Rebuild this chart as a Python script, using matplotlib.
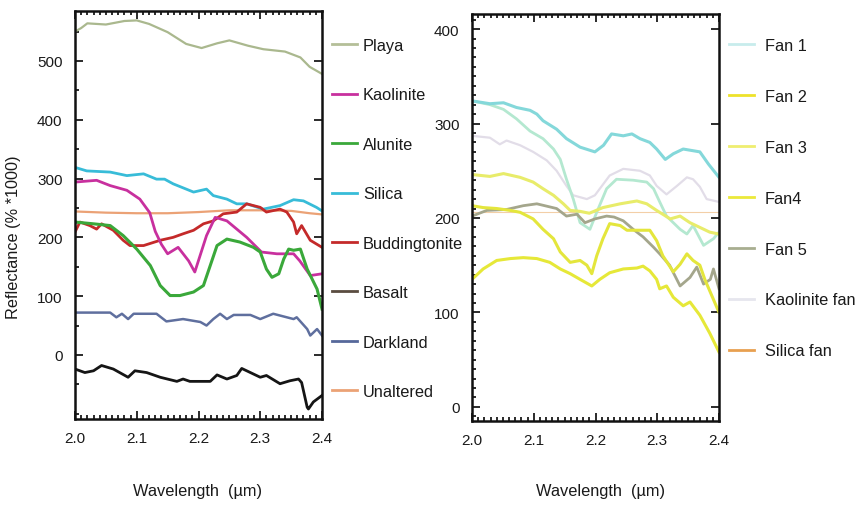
import matplotlib

matplotlib.use("Agg")
import matplotlib.pyplot as plt
from matplotlib.lines import Line2D
from matplotlib.ticker import FixedLocator, MultipleLocator

plt.rcParams["font.family"] = ["Liberation Sans", "DejaVu Sans"]

W, H = 867, 506

# ---- left panel: reference spectra (reflectance % * 1000) ----
playa_wl = [2.0, 2.01, 2.02, 2.05, 2.08, 2.10, 2.12, 2.15, 2.18, 2.205, 2.23, 2.25,
            2.28, 2.305, 2.34, 2.365, 2.38, 2.40]
playa = [550, 556, 564, 562, 568, 569, 563, 549, 529, 522, 530, 535,
         526, 520, 516, 506, 490, 478]

silica_wl = [2.0, 2.019, 2.057, 2.084, 2.111, 2.132, 2.145, 2.159, 2.192, 2.213, 2.224,
             2.246, 2.262, 2.278, 2.305, 2.332, 2.354, 2.37, 2.391, 2.40]
silica = [319, 313, 311, 305, 308, 299, 299, 291, 277, 282, 271,
          265, 257, 257, 248, 254, 264, 262, 251, 245]

kaolinite_wl = [2.0, 2.035, 2.057, 2.084, 2.105, 2.121, 2.13, 2.14, 2.15, 2.167, 2.184,
                2.194, 2.213, 2.227, 2.246, 2.278, 2.302, 2.327, 2.354, 2.364, 2.381, 2.40]
kaolinite = [294, 297, 288, 280, 265, 242, 210, 188, 172, 183, 160,
             141, 203, 234, 228, 200, 175, 172, 172, 160, 135, 138]

alunite_wl = [2.0, 2.03, 2.057, 2.078, 2.1, 2.122, 2.138, 2.154, 2.17, 2.192, 2.208,
              2.219, 2.23, 2.246, 2.267, 2.289, 2.3, 2.31, 2.319, 2.33, 2.338, 2.346,
              2.354, 2.365, 2.376, 2.392, 2.40]
alunite = [226, 223, 220, 203, 180, 152, 118, 101, 101, 107, 118,
           152, 186, 197, 192, 183, 175, 146, 132, 138, 163, 180,
           178, 180, 146, 112, 78]

budd_wl = [2.0, 2.008, 2.024, 2.035, 2.043, 2.062, 2.078, 2.089, 2.111, 2.138, 2.159,
           2.175, 2.192, 2.208, 2.224, 2.24, 2.262, 2.278, 2.3, 2.31, 2.332, 2.343,
           2.354, 2.359, 2.367, 2.381, 2.40]
buddingtonite = [209, 226, 220, 214, 223, 212, 195, 186, 186, 195, 200,
                 206, 212, 223, 228, 240, 243, 257, 251, 243, 248, 243,
                 226, 206, 220, 195, 183]

darkland_wl = [2.0, 2.057, 2.067, 2.076, 2.086, 2.095, 2.132, 2.148, 2.175, 2.203, 2.213,
               2.224, 2.235, 2.246, 2.257, 2.284, 2.3, 2.321, 2.343, 2.354, 2.359, 2.376,
               2.381, 2.392, 2.40]
darkland = [72, 72, 64, 70, 61, 70, 70, 57, 61, 56, 50,
            61, 70, 61, 68, 68, 61, 70, 64, 61, 64, 44,
            33, 44, 33]

basalt_wl = [2.0, 2.016, 2.03, 2.043, 2.062, 2.086, 2.097, 2.116, 2.138, 2.165, 2.175,
             2.186, 2.219, 2.23, 2.246, 2.262, 2.27, 2.284, 2.3, 2.31, 2.332, 2.348,
             2.362, 2.367, 2.376, 2.378, 2.386, 2.40]
basalt = [-24, -30, -27, -18, -24, -38, -27, -30, -38, -45, -41,
          -45, -45, -34, -41, -35, -23, -30, -38, -35, -49, -44,
          -41, -47, -89, -92, -80, -69]

unaltered_wl = [2.0, 2.05, 2.1, 2.15, 2.2, 2.25, 2.3, 2.35, 2.38, 2.4]
unaltered = [244, 242, 241, 241, 243, 246, 246, 245, 241, 239]

# ---- right panel: alluvial fan spectra ----
fan1_wl = [2.0, 2.029, 2.051, 2.072, 2.094, 2.105, 2.115, 2.137, 2.153, 2.175, 2.199,
           2.213, 2.226, 2.245, 2.259, 2.272, 2.288, 2.299, 2.313, 2.326, 2.342, 2.369,
           2.383, 2.40]
fan1 = [324, 321, 322, 317, 314, 310, 303, 294, 284, 275, 270,
        277, 289, 287, 289, 284, 280, 273, 262, 268, 273, 270,
        257, 243]

fan1b_wl = [2.0, 2.029, 2.051, 2.072, 2.094, 2.115, 2.132, 2.143, 2.153, 2.164, 2.175,
            2.191, 2.202, 2.218, 2.234, 2.261, 2.283, 2.294, 2.304, 2.315, 2.337, 2.348,
            2.358, 2.375, 2.391, 2.40]
fan1b = [324, 320, 315, 305, 292, 284, 273, 262, 241, 220, 195,
         188, 206, 231, 241, 240, 238, 231, 217, 202, 188, 183,
         192, 171, 178, 185]

fan2_wl = [2.0, 2.018, 2.04, 2.062, 2.083, 2.105, 2.126, 2.143, 2.159, 2.175, 2.194,
           2.207, 2.223, 2.245, 2.267, 2.277, 2.288, 2.299, 2.304, 2.315, 2.326, 2.342,
           2.353, 2.369, 2.385, 2.40]
fan2 = [135, 146, 155, 157, 158, 157, 153, 146, 141, 135, 128,
        135, 142, 146, 147, 149, 144, 135, 125, 128, 116, 107,
        111, 97, 78, 58]

fan3_wl = [2.0, 2.029, 2.051, 2.078, 2.099, 2.115, 2.132, 2.148, 2.159, 2.175, 2.19,
           2.212, 2.24, 2.267, 2.283, 2.299, 2.321, 2.337, 2.353, 2.369, 2.385, 2.40]
fan3 = [246, 244, 247, 243, 238, 231, 224, 215, 208, 207, 205,
        211, 215, 218, 215, 208, 199, 202, 195, 190, 185, 183]

fan4_wl = [2.0, 2.018, 2.04, 2.062, 2.078, 2.099, 2.115, 2.132, 2.143, 2.159, 2.175,
           2.186, 2.194, 2.202, 2.212, 2.223, 2.24, 2.251, 2.272, 2.288, 2.299, 2.309,
           2.326, 2.337, 2.348, 2.358, 2.369, 2.377, 2.40]
fan4 = [213, 211, 210, 208, 206, 199, 188, 178, 164, 153, 155,
        150, 141, 160, 178, 194, 192, 187, 187, 187, 176, 160,
        143, 151, 162, 155, 150, 135, 100]

fan5_wl = [2.0, 2.024, 2.056, 2.083, 2.105, 2.137, 2.153, 2.17, 2.183, 2.199, 2.218,
           2.23, 2.245, 2.261, 2.277, 2.294, 2.304, 2.32, 2.337, 2.353, 2.364, 2.375,
           2.386, 2.391, 2.40]
fan5 = [202, 208, 209, 213, 215, 210, 202, 204, 195, 199, 202,
        201, 197, 188, 180, 169, 162, 150, 128, 137, 148, 130,
        135, 146, 125]

kfan_wl = [2.0, 2.029, 2.045, 2.056, 2.078, 2.099, 2.121, 2.137, 2.153, 2.164, 2.186,
           2.199, 2.207, 2.223, 2.245, 2.272, 2.288, 2.299, 2.315, 2.332, 2.348, 2.358,
           2.369, 2.38, 2.40]
kaolinite_fan = [287, 285, 278, 282, 277, 270, 261, 250, 234, 224, 220,
                 224, 231, 245, 252, 250, 245, 234, 225, 234, 243, 241,
                 233, 220, 217]

sfan_wl = [2.0, 2.1, 2.2, 2.3, 2.4]
silica_fan = [206, 206, 206, 206, 206]

left_labels = ["Playa", "Kaolinite", "Alunite", "Silica", "Buddingtonite",
               "Basalt", "Darkland", "Unaltered"]
left_key_colors = ["#b4bf98", "#c8309e", "#3aa83a", "#38bcd8", "#c42a2a",
                   "#5a4c40", "#56689a", "#eba276"]
left_yticks = [0, 100, 200, 300, 400, 500]
right_labels = ["Fan 1", "Fan 2", "Fan 3", "Fan4", "Fan 5", "Kaolinite fan", "Silica fan"]
right_key_colors = ["#c8ecec", "#eee22a", "#efee70", "#ebe93a", "#a8ae90",
                    "#e6e6ee", "#e8a050"]
right_yticks = [0, 100, 200, 300, 400]


def style_axes(ax, ylim, yticks, yminor):
    ax.set_xlim(2.0, 2.4)
    ax.set_ylim(*ylim)
    ax.xaxis.set_major_locator(MultipleLocator(0.1))
    ax.xaxis.set_minor_locator(MultipleLocator(0.01))
    ax.yaxis.set_major_locator(FixedLocator(yticks))
    ax.yaxis.set_minor_locator(MultipleLocator(yminor))
    ax.xaxis.set_major_formatter(plt.FormatStrFormatter("%.1f"))
    ax.tick_params(which="both", direction="in", top=True, right=True,
                   width=1.3, labelsize=11, colors="#1a1a1a")
    ax.tick_params(which="major", length=6, pad=9)
    ax.tick_params(which="minor", length=3)
    ax.tick_params(axis="y", which="minor", right=False)
    for sp in ax.spines.values():
        sp.set_linewidth(1.8)
        sp.set_color("#111111")


fig = plt.figure(figsize=(W / 100, H / 100), dpi=100)
ax1 = fig.add_axes([75 / W, 1 - 420 / H, 247 / W, 408 / H])
ax2 = fig.add_axes([472 / W, 1 - 422 / H, 247 / W, 407 / H])

# left panel
ax1.plot(unaltered_wl, unaltered, color="#eba276", lw=1.6)
ax1.plot(silica_wl, silica, color="#38bcd8", lw=2.0)
ax1.plot(playa_wl, playa, color="#aab88e", lw=1.6)
ax1.plot(budd_wl, buddingtonite, color="#c42a2a", lw=2.0)
ax1.plot(kaolinite_wl, kaolinite, color="#c8309e", lw=2.0)
ax1.plot(alunite_wl, alunite, color="#3aa83a", lw=2.2)
ax1.plot(darkland_wl, darkland, color="#5f6f9e", lw=1.8)
ax1.plot(basalt_wl, basalt, color="#151515", lw=2.0)
style_axes(ax1, (-109, 585), left_yticks, 50)

# right panel
ax2.plot(sfan_wl, silica_fan, color="#e8a050", lw=0.8, alpha=0.5)
ax2.plot(kfan_wl, kaolinite_fan, color="#e2dde8", lw=1.6)
ax2.plot(fan1b_wl, fan1b, color="#b4e8d0", lw=2.0)
ax2.plot(fan1_wl, fan1, color="#84d8da", lw=2.2)
ax2.plot(fan3_wl, fan3, color="#e8ec6a", lw=2.2)
ax2.plot(fan5_wl, fan5, color="#a4a68c", lw=2.0)
ax2.plot(fan4_wl, fan4, color="#e4e63c", lw=2.2)
ax2.plot(fan2_wl, fan2, color="#e6e838", lw=2.2)
style_axes(ax2, (-15, 416), right_yticks, 10)

# legends sit outside each panel
left_handles = [Line2D([], [], color=c, lw=2) for c in left_key_colors]
ax1.legend(left_handles, left_labels, loc="upper left",
           bbox_to_anchor=(332 / W, 1 - 39 / H), bbox_transform=fig.transFigure,
           frameon=False, borderpad=0, borderaxespad=0, handlelength=1.52,
           handletextpad=0.37, labelspacing=2.1, fontsize=11.8, labelcolor="#1a1a1a")

right_handles = [Line2D([], [], color=c, lw=2) for c in right_key_colors]
ax2.legend(right_handles, right_labels, loc="upper left",
           bbox_to_anchor=(729 / W, 1 - 39 / H), bbox_transform=fig.transFigure,
           frameon=False, borderpad=0, borderaxespad=0, handlelength=1.52,
           handletextpad=0.67, labelspacing=2.19, fontsize=11.8, labelcolor="#1a1a1a")

ax1.set_xlabel("Wavelength  (µm)", fontsize=11.8, color="#1a1a1a")
ax1.xaxis.set_label_coords(0.494, -0.157)
ax2.set_xlabel("Wavelength  (µm)", fontsize=11.8, color="#1a1a1a")
ax2.xaxis.set_label_coords(0.522, -0.152)

fig.text(14 / W, 1 - 237 / H, "Reflectance (% *1000)", rotation=90,
         ha="center", va="center", fontsize=11.7, color="#1a1a1a")

fig.savefig("out.png", dpi=100)
